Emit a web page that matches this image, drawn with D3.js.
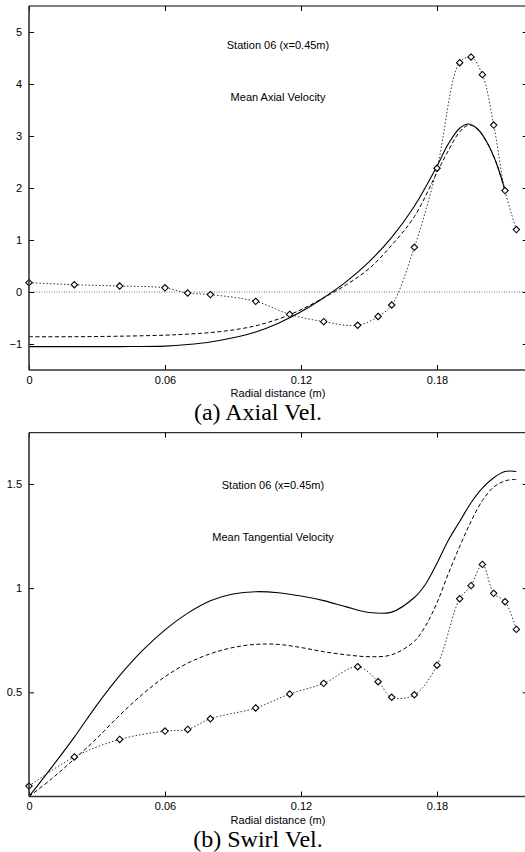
<!DOCTYPE html>
<html>
<head>
<meta charset="utf-8">
<script src="https://cdn.jsdelivr.net/npm/d3@7"></script>
<style>
  body { margin: 0; background: #fff; }
  .tick text { font-family: "Liberation Sans", Arial, sans-serif; font-size: 11px; fill: #000; }
  .tick line { stroke: #000; stroke-width: 1; }
  .note { font-family: "Liberation Sans", Arial, sans-serif; font-size: 11px; fill: #000; }
  .caption { font-family: "Liberation Serif", "Times New Roman", serif; font-size: 24px; fill: #000; }
</style>
</head>
<body>
<div class="figure"></div>
<script>
// Chart data
var radialExp = [0, 0.02, 0.04, 0.06, 0.07, 0.08, 0.10, 0.115, 0.13, 0.145, 0.154, 0.16, 0.17, 0.18, 0.19, 0.195, 0.20, 0.205, 0.21, 0.215];
var axialExp = [0.18, 0.14, 0.115, 0.08, -0.02, -0.05, -0.18, -0.43, -0.57, -0.64, -0.47, -0.25, 0.86, 2.38, 4.41, 4.52, 4.18, 3.21, 1.95, 1.20];
var swirlExp = [0.05, 0.19, 0.274, 0.314, 0.322, 0.373, 0.425, 0.492, 0.543, 0.623, 0.551, 0.476, 0.488, 0.63, 0.949, 1.012, 1.114, 0.975, 0.935, 0.802];

var radialAxial = [0, 0.02, 0.04, 0.06, 0.07, 0.08, 0.09, 0.10, 0.11, 0.12, 0.13, 0.14, 0.15, 0.16, 0.17, 0.18, 0.185, 0.19, 0.194, 0.198, 0.202, 0.206, 0.21];
var axialSolid = [-1.05, -1.05, -1.05, -1.04, -1.01, -0.96, -0.88, -0.77, -0.60, -0.38, -0.11, 0.20, 0.58, 1.05, 1.65, 2.42, 2.85, 3.15, 3.23, 3.13, 2.88, 2.50, 1.95];
var axialDashed = [-0.86, -0.86, -0.85, -0.83, -0.81, -0.78, -0.73, -0.65, -0.52, -0.34, -0.11, 0.14, 0.45, 0.90, 1.45, 2.30, 2.72, 3.08, 3.21, 3.13, 2.88, 2.50, 1.95];

var radialSwirl = [0, 0.01, 0.02, 0.03, 0.04, 0.05, 0.06, 0.07, 0.08, 0.09, 0.10, 0.11, 0.12, 0.13, 0.14, 0.15, 0.16, 0.17, 0.175, 0.18, 0.185, 0.19, 0.195, 0.20, 0.205, 0.21, 0.215];
var swirlSolid = [0, 0.14, 0.285, 0.44, 0.58, 0.70, 0.80, 0.88, 0.94, 0.972, 0.983, 0.978, 0.962, 0.94, 0.91, 0.883, 0.885, 0.955, 1.02, 1.12, 1.23, 1.32, 1.41, 1.48, 1.53, 1.56, 1.56];
var swirlDashed = [0, 0.085, 0.18, 0.28, 0.39, 0.49, 0.575, 0.64, 0.685, 0.715, 0.73, 0.73, 0.715, 0.695, 0.68, 0.671, 0.68, 0.745, 0.82, 0.93, 1.07, 1.20, 1.32, 1.42, 1.485, 1.515, 1.522];

var xTickValues = [0, 0.06, 0.12, 0.18];
var xTickLabels = ["0", "0.06", "0.12", "0.18"];
var axialTicks = [-1, 0, 1, 2, 3, 4, 5];
var swirlTicks = [0.5, 1, 1.5];

var svgWidth = 525;
var svgHeight = 852;

var plotLeft = 29;
var plotRight = 527.7;

var svg = d3
  .select(".figure")
  .append("svg")
  .attr("width", svgWidth)
  .attr("height", svgHeight);

var xScale = d3.scaleLinear().domain([0, 0.22]).range([plotLeft, plotRight]);

function zip(xs, ys) {
  return xs.map(function(x, i) { return [x, ys[i]]; });
}

var panels = [
  {
    id: "a", top: 6, bottom: 370, yDomain: [-1.5, 5.5], yTicks: axialTicks, zeroLine: true,
    solid: zip(radialAxial, axialSolid), dashed: zip(radialAxial, axialDashed), exp: zip(radialExp, axialExp),
    title: "Station 06 (x=0.45m)", subtitle: "Mean Axial Velocity", titleX: 278, titleY: 49, subY: 101,
    caption: "(a) Axial Vel."
  },
  {
    id: "b", top: 432.7, bottom: 796.5, yDomain: [0, 1.746], yTicks: swirlTicks, zeroLine: false,
    solid: zip(radialSwirl, swirlSolid), dashed: zip(radialSwirl, swirlDashed), exp: zip(radialExp, swirlExp),
    title: "Station 06 (x=0.45m)", subtitle: "Mean Tangential Velocity", titleX: 273, titleY: 489, subY: 541,
    caption: "(b) Swirl Vel."
  }
];

panels.forEach(function(p) {
  var yScale = d3.scaleLinear().domain(p.yDomain).range([p.bottom, p.top]);
  var g = svg.append("g");

  g.append("clipPath").attr("id", "clip-" + p.id)
    .append("rect")
    .attr("x", plotLeft).attr("y", p.top)
    .attr("width", plotRight - plotLeft).attr("height", p.bottom - p.top);

  var plot = g.append("g").attr("clip-path", "url(#clip-" + p.id + ")");

  var line = d3.line()
    .x(function(d) { return xScale(d[0]); })
    .y(function(d) { return yScale(d[1]); })
    .curve(d3.curveCatmullRom.alpha(0.5));

  if (p.zeroLine) {
    plot.append("line")
      .attr("x1", xScale(0)).attr("x2", xScale(0.22))
      .attr("y1", yScale(0)).attr("y2", yScale(0))
      .attr("stroke", "#555").attr("stroke-width", 0.8)
      .attr("stroke-dasharray", "1,1.5");
  }

  plot.append("path").datum(p.solid)
    .attr("d", line).attr("fill", "none")
    .attr("stroke", "#000").attr("stroke-width", 1.1);

  plot.append("path").datum(p.dashed)
    .attr("d", line).attr("fill", "none")
    .attr("stroke", "#000").attr("stroke-width", 1)
    .attr("stroke-dasharray", "4,2.5");

  plot.append("path").datum(p.exp)
    .attr("d", line).attr("fill", "none")
    .attr("stroke", "#333").attr("stroke-width", 1)
    .attr("stroke-dasharray", "1.5,2");

  // experimental markers
  g.selectAll(".marker")
    .data(p.exp)
    .enter()
    .append("path")
    .attr("d", d3.symbol(d3.symbolDiamond2, 26))
    .attr("transform", function(d) { return "translate(" + xScale(d[0]) + "," + yScale(d[1]) + ")"; })
    .attr("fill", "#fff")
    .attr("stroke", "#000")
    .attr("stroke-width", 1.1);

  // axes, ticks pointing inward
  var left = g.append("g")
    .attr("transform", "translate(" + plotLeft + ",0)")
    .call(d3.axisLeft(yScale).tickValues(p.yTicks).tickSize(-5).tickPadding(7).tickFormat(d3.format("")));
  var bottom = g.append("g")
    .attr("transform", "translate(0," + p.bottom + ")")
    .call(d3.axisBottom(xScale).tickValues(xTickValues).tickSize(-5).tickPadding(6)
      .tickFormat(function(d, i) { return xTickLabels[i]; }));
  var top = g.append("g")
    .attr("transform", "translate(0," + p.top + ")")
    .call(d3.axisTop(xScale).tickValues(xTickValues).tickSize(-5).tickFormat(""));
  var right = g.append("g")
    .attr("transform", "translate(" + plotRight + ",0)")
    .call(d3.axisRight(yScale).tickValues(p.yTicks).tickSize(-5).tickFormat(""));
  [left, bottom, top, right].forEach(function(a) { a.select(".domain").remove(); });

  // frame
  g.append("line")
    .attr("x1", plotLeft).attr("x2", plotLeft).attr("y1", p.top).attr("y2", p.bottom)
    .attr("stroke", "#333").attr("stroke-width", 1.6);
  g.append("line")
    .attr("x1", plotLeft).attr("x2", plotRight).attr("y1", p.bottom).attr("y2", p.bottom)
    .attr("stroke", "#333").attr("stroke-width", 1.6);
  g.append("line")
    .attr("x1", plotLeft).attr("x2", plotRight).attr("y1", p.top).attr("y2", p.top)
    .attr("stroke", "#000").attr("stroke-width", 1);

  // labels
  g.append("text").attr("class", "note").attr("text-anchor", "middle")
    .attr("x", p.titleX).attr("y", p.titleY).text(p.title);
  g.append("text").attr("class", "note").attr("text-anchor", "middle")
    .attr("x", p.titleX).attr("y", p.subY).text(p.subtitle);
  g.append("text").attr("class", "note").attr("text-anchor", "middle")
    .attr("x", 278).attr("y", p.bottom + 27).text("Radial distance (m)");
  g.append("text").attr("class", "caption").attr("text-anchor", "middle")
    .attr("x", 258).attr("y", p.bottom + 50).text(p.caption);
});
</script>
</body>
</html>
